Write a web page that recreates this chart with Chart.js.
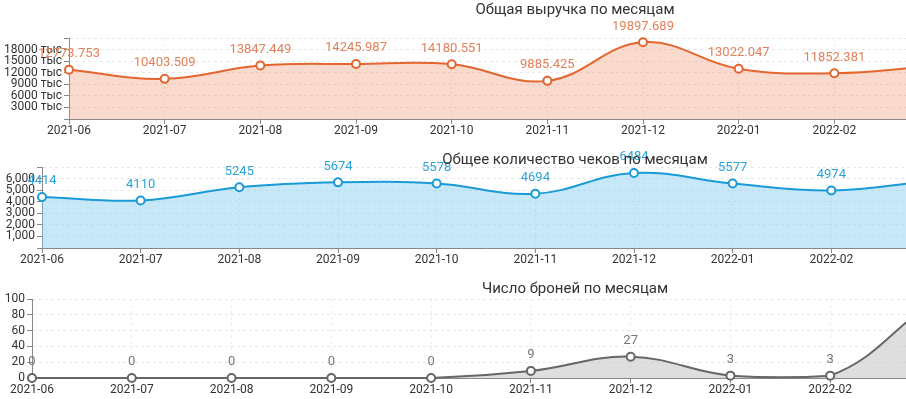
<!DOCTYPE html>
<html><head><meta charset="utf-8">
<script src="https://cdn.jsdelivr.net/npm/chart.js@4/dist/chart.umd.min.js"></script>
<style>
html,body{margin:0;padding:0;background:#fff;overflow:hidden;width:906px;height:399px;position:relative;}
.box{position:absolute;left:0;width:940px;}
</style></head><body>
<div class="box" style="top:0;height:141px"><canvas id="c1"></canvas></div>
<div class="box" style="top:135px;height:135px"><canvas id="c2"></canvas></div>
<div class="box" style="top:270px;height:130px"><canvas id="c3"></canvas></div>
<script>
const months = ['2021-06','2021-07','2021-08','2021-09','2021-10','2021-11','2021-12','2022-01','2022-02','2022-03'];
const revenue = [12773.753,10403.509,13847.449,14245.987,14180.551,9885.425,19897.689,13022.047,11852.381,13600];
const checks = [4414,4110,5245,5674,5578,4694,6484,5577,4974,5800];
const bookings = [0,0,0,0,0,9,27,3,3,95];
const titles = ['Общая выручка по месяцам','Общее количество чеков по месяцам','Число броней по месяцам'];
const revenueTicks = [0,3000,6000,9000,12000,15000,18000,21000];
const checksTicks = [0,1000,2000,3000,4000,5000,6000,7000];
const bookingsTicks = [0,20,40,60,80,100];

const posTitle = {
  id:'posTitle',
  afterDraw(chart, args, o){
    const ctx = chart.ctx; ctx.save();
    ctx.font = '15px Roboto'; ctx.fillStyle = '#333';
    ctx.textAlign = 'center'; ctx.textBaseline = 'middle';
    ctx.fillText(o.text, o.x, o.y); ctx.restore();
  }
};
const valueLabels = {
  id:'valueLabels',
  afterDatasetsDraw(chart, args, o){
    const ctx = chart.ctx; ctx.save();
    ctx.font = '13px Roboto'; ctx.fillStyle = o.color;
    ctx.textAlign = 'center'; ctx.textBaseline = 'middle';
    const meta = chart.getDatasetMeta(0);
    const vals = chart.data.datasets[0].data;
    meta.data.forEach((p,i)=>{
      if (i === vals.length-1) return;
      ctx.fillText(o.fmt(vals[i]), p.x, p.y - 16);
    });
    ctx.restore();
  }
};

function makeChart(id, values, c){
  return new Chart(document.getElementById(id), {
    type:'line',
    data:{labels: months, datasets:[{data: values, borderColor: c.line, backgroundColor: c.fill, fill:'origin',
      tension:0.4, borderWidth:2, pointRadius:4, pointBorderWidth:2, pointBackgroundColor:'#fff',
      pointBorderColor: c.line, clip:false}]},
    options:{
      responsive:true, maintainAspectRatio:false, animation:false,
      layout:{padding:{top:c.top, right:10, left:0, bottom:0}},
      plugins:{legend:{display:false}, tooltip:{enabled:false}, title:{display:false},
        posTitle:{text:c.title, x:575, y:c.titleY},
        valueLabels:{color:c.labelColor, fmt:c.fmt}},
      scales:{
        x:{
          grid:{color:'#eeeeee', tickColor:'#888', tickLength:5},
          border:{color:'#888', dash:[3,3]},
          ticks:{color:'#333', font:{family:'Roboto', size:12}, maxRotation:0, autoSkip:false, padding:0},
          afterFit(s){ s.height = 22; s.paddingRight = 0; s.paddingLeft = 0; }
        },
        y:{
          min:c.ticks[0], max:c.ticks[c.ticks.length-1],
          afterBuildTicks(s){ s.ticks = c.ticks.map(v=>({value:v})); },
          grid:{color:'#e8e8e8', tickColor:'#888', tickLength:5},
          border:{color:'#888', dash:[3,3]},
          ticks:{color:'#333', font:{family:'Roboto', size:12}, padding:2, autoSkip:false, callback:c.tickFmt},
          afterFit(s){ s.width = c.left; s.paddingTop = 0; s.paddingBottom = 0; }
        }
      }
    },
    plugins:[posTitle, valueLabels]
  });
}

makeChart('c1', revenue, {
  line:'#e4652e', fill:'rgba(240,140,100,0.32)', labelColor:'#e2825a', top:38, left:69,
  title:titles[0], titleY:10.5, ticks:revenueTicks,
  fmt:v=>v.toFixed(3),
  tickFmt:(v)=> (v===0||v===21000) ? '' : v + ' тыс'
});
makeChart('c2', checks, {
  line:'#1a9ad6', fill:'rgba(120,200,240,0.42)', labelColor:'#2aa2da', top:32, left:42,
  title:titles[1], titleY:25, ticks:checksTicks,
  fmt:v=>String(v),
  tickFmt:(v)=> (v===0||v===7000) ? '' : v.toLocaleString('en-US')
});
makeChart('c3', bookings, {
  line:'#666666', fill:'rgba(190,190,190,0.5)', labelColor:'#777', top:29, left:32,
  title:titles[2], titleY:19.5, ticks:bookingsTicks,
  fmt:v=>String(v),
  tickFmt:(v)=> String(v)
});
</script>
</body></html>
